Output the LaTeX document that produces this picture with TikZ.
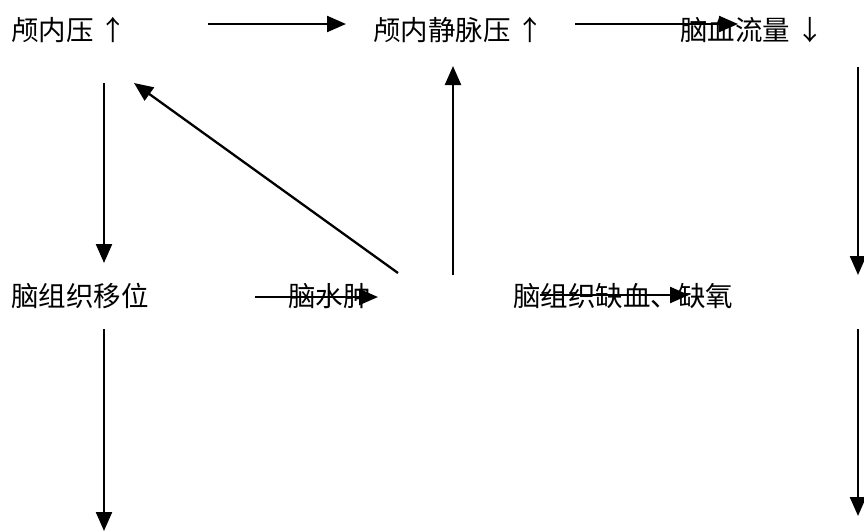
\documentclass[tikz,border=0pt]{standalone}
\usepackage{fontspec}
\newfontfamily\cjk{Noto Sans CJK SC}
\usetikzlibrary{arrows.meta}
\begin{document}
\begin{tikzpicture}[x=1pt,y=-1pt,
  lbl/.style={anchor=base west,inner sep=0pt,font=\cjk\fontsize{27.5}{32}\selectfont},
  arr/.style={line width=2.3pt,-{Triangle[length=19pt,width=16pt]}}]
\useasboundingbox (0,0) rectangle (864,531);
\node[lbl] (n1) at (11,40) {颅内压 ↑};
\node[lbl] (n2) at (373,40) {颅内静脉压 ↑};
\node[lbl] (n3) at (680,40) {脑血流量 ↓};
\node[lbl] (n4) at (11,306) {脑组织移位};
\node[lbl] (n5) at (288,306) {脑水肿};
\node[lbl] (n6) at (513,306) {脑组织缺血、缺氧};
\coordinate (a1s) at (208,24); \coordinate (a1e) at (346,24);
\coordinate (a2s) at (575,24); \coordinate (a2e) at (738,24);
\coordinate (a3s) at (104,83); \coordinate (a3e) at (104,263);
\coordinate (a4s) at (398,273); \coordinate (a4e) at (134,83);
\coordinate (a5s) at (453,275); \coordinate (a5e) at (453,66);
\coordinate (a6s) at (858,67); \coordinate (a6e) at (858,275);
\coordinate (a7s) at (255,297); \coordinate (a7e) at (378,297);
\coordinate (a8s) at (540,295); \coordinate (a8e) at (689,295);
\coordinate (a9s) at (104,329); \coordinate (a9e) at (104,531);
\coordinate (a10s) at (858,329); \coordinate (a10e) at (858,516);
\foreach \i in {1,...,10} \draw[arr] (a\i s) -- (a\i e);
\end{tikzpicture}
\end{document}
